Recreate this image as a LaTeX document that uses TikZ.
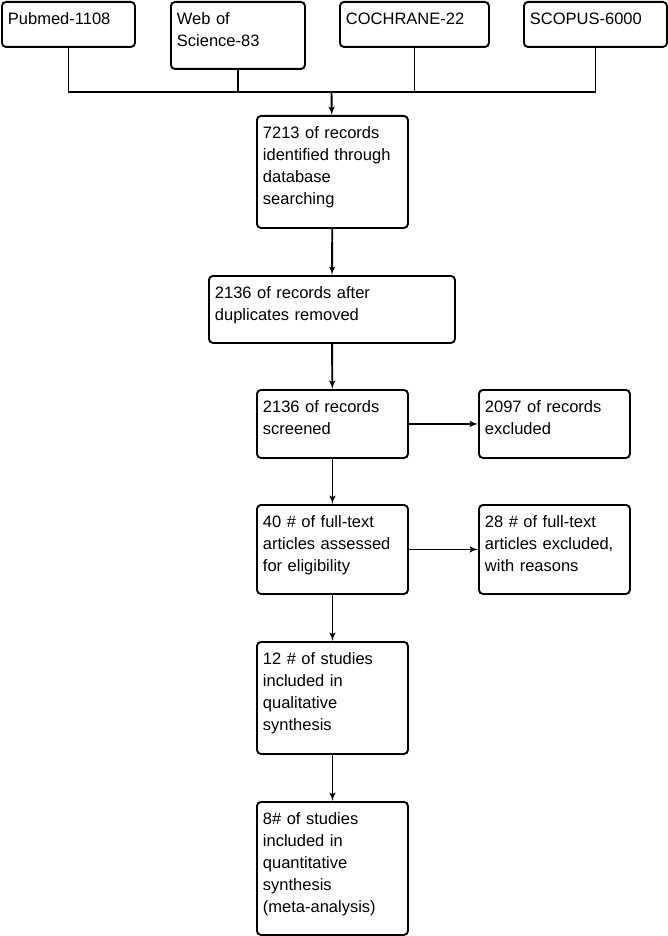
\documentclass[tikz,border=0pt]{standalone}
\usepackage{fontspec}
\setmainfont{Liberation Sans}
\usetikzlibrary{arrows,positioning,calc}
\tikzset{
stage/.style 2 args = {draw, rectangle, rounded corners=4pt, align=left, anchor=north west,
  inner xsep=6pt, inner ysep=4pt, text height=19pt, text width=#1, text depth=#2},
tmp/.style  = {coordinate},
}
\begin{document}
\begin{tikzpicture}[x=1pt, y=-1pt, >=latex', line width=1.9pt,
  font=\fontsize{16.5}{22}\selectfont]
  \useasboundingbox (0,0) rectangle (667,936);
  % databases
  \node [stage={121pt}{18pt}]  (pubmed)   at (1,1)     {Pubmed-1108};
  \node [stage={122pt}{40pt}]  (wos)      at (170,1)   {Web of\\Science-83};
  \node [stage={137pt}{18pt}]  (cochrane) at (339,1)   {COCHRANE-22};
  \node [stage={131pt}{18pt}]  (scopus)   at (523,1)   {SCOPUS-6000};
  \node [tmp]                  (join)     at (331.5,92) {};
  % main stream
  \node [stage={139pt}{85pt}]  (ident)    at (256,115) {7213 of records\\identified through\\database\\searching};
  \node [stage={234pt}{40pt}]  (dup)      at (208,275) {2136 of records after\\duplicates removed};
  \node [stage={139pt}{41pt}]  (screen)   at (256,389) {2136 of records\\screened};
  \node [stage={139pt}{41pt}]  (excl)     at (478,389) {2097 of records\\excluded};
  \node [stage={139pt}{62pt}]  (elig)     at (256,504) {40 \# of full-text\\articles assessed\\for eligibility};
  \node [stage={139pt}{62pt}]  (fullexcl) at (478,504) {28 \# of full-text\\articles excluded,\\with reasons};
  \node [stage={139pt}{85pt}]  (qual)     at (256,641) {12 \# of studies\\included in\\qualitative\\synthesis};
  \node [stage={139pt}{106pt}] (quant)    at (256,801) {8\# of studies\\included in\\quantitative\\synthesis\\(meta-analysis)};

  \draw (pubmed.south) |- (scopus.south |- join) -- (scopus.south);
  \draw (wos.south) -- (wos.south |- join);
  \draw (cochrane.south) -- (cochrane.south |- join);
  \draw [->] (join) -- (ident);
  \draw [->] (ident) -- (dup);
  \draw [->] (dup) -- (screen);
  \draw [->] (screen) -- (excl);
  \draw [->] (screen) -- (elig);
  \draw [->] (elig) -- (fullexcl);
  \draw [->] (elig) -- (qual);
  \draw [->] (qual) -- (quant);
\end{tikzpicture}
\end{document}
